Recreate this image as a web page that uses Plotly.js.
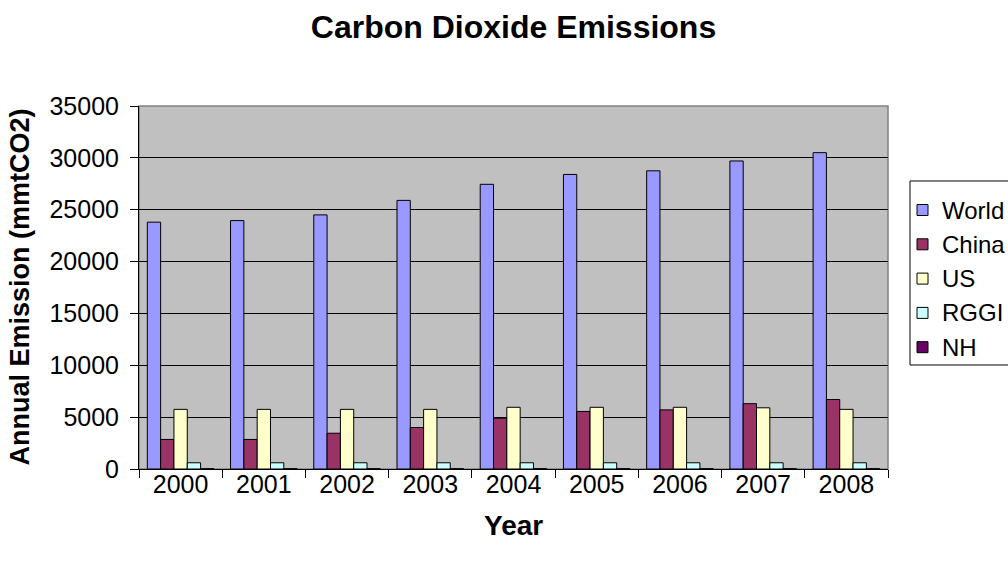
<!DOCTYPE html>
<html>
<head>
<meta charset="utf-8">
<script src="https://cdn.plot.ly/plotly-3.0.1.min.js"></script>
<style>
  html, body { margin: 0; padding: 0; background: #ffffff; }
  #chart { width: 1008px; height: 565px; }
</style>
</head>
<body>
<div id="chart"></div>
<script>
// Annual CO2 emissions, million metric tons
const years = ["2000", "2001", "2002", "2003", "2004", "2005", "2006", "2007", "2008"];
const world = [23800, 23950, 24500, 25900, 27450, 28400, 28750, 29700, 30500];
const china = [2850, 2850, 3450, 4000, 4900, 5550, 5700, 6300, 6700];
const us    = [5750, 5750, 5750, 5750, 5950, 5950, 5950, 5900, 5750];
const rggi  = [600, 600, 600, 600, 600, 600, 600, 600, 600];
const nh    = [21, 21, 21, 21, 21, 21, 21, 21, 21];

const seriesNames = ["World", "China", "US", "RGGI", "NH"];
const seriesValues = [world, china, us, rggi, nh];
const seriesColors = ["#9999FF", "#993366", "#FFFFCC", "#CCFFFF", "#660066"];

const FONT = "Liberation Sans, Arial, sans-serif";

// page geometry of the plotting area (px)
const W = 1008, H = 565;
const M = { l: 139, r: 120, t: 106, b: 96 };
const PW = W - M.l - M.r, PH = H - M.t - M.b;
const px = x => (x - M.l) / PW;            // page x -> paper x
const py = y => (H - M.b - y) / PH;        // page y -> paper y

const traces = seriesNames.map((name, i) => ({
  type: "bar",
  name: name,
  x: years,
  y: seriesValues[i],
  marker: { color: seriesColors[i], line: { color: "#000000", width: 1 } },
  hoverinfo: "x+y+name"
}));

// Legend box drawn beside the plot, one swatch + label per series
const legendTop = 181, legendBottom = 365, rowStep = 34.3, firstRow = 210;
const shapes = [
  { type: "rect", xref: "paper", yref: "paper", x0: 0, x1: 1, y0: 0, y1: 1,
    line: { color: "#808080", width: 1.5 }, layer: "below" },
  { type: "rect", xref: "paper", yref: "paper",
    x0: px(910), x1: px(1030), y0: py(legendBottom), y1: py(legendTop),
    fillcolor: "#ffffff", line: { color: "#000000", width: 1 } }
];
const annotations = [];
seriesNames.forEach((name, i) => {
  const cy = firstRow + i * rowStep;
  shapes.push({
    type: "rect", xref: "paper", yref: "paper",
    x0: px(917), x1: px(928), y0: py(cy + 5.5), y1: py(cy - 5.5),
    fillcolor: seriesColors[i], line: { color: "#000000", width: 1 }
  });
  annotations.push({
    xref: "paper", yref: "paper", x: px(940), y: py(cy),
    xanchor: "left", yanchor: "middle", showarrow: false,
    text: name, font: { family: FONT, size: 24, color: "#000000" }
  });
});

// Axis titles
annotations.push({
  xref: "paper", yref: "paper", x: 0.5, y: py(525),
  xanchor: "center", yanchor: "middle", showarrow: false,
  text: "<b>Year</b>", font: { family: FONT, size: 28, color: "#000000" }
});
annotations.push({
  xref: "paper", yref: "paper", x: px(19), y: 0.5,
  xanchor: "center", yanchor: "middle", showarrow: false, textangle: -90,
  text: "<b>Annual Emission (mmtCO2)</b>", font: { family: FONT, size: 27, color: "#000000" }
});

const layout = {
  width: W,
  height: H,
  margin: { l: M.l, r: M.r, t: M.t, b: M.b, pad: 0, autoexpand: false },
  paper_bgcolor: "#ffffff",
  plot_bgcolor: "#C0C0C0",
  font: { family: FONT, size: 25, color: "#000000" },
  title: {
    text: "<b>Carbon Dioxide Emissions</b>",
    font: { family: FONT, size: 32, color: "#000000" },
    x: 0.5, xanchor: "center", xref: "paper",
    y: 1 - 27 / H, yanchor: "middle"
  },
  showlegend: false,
  barmode: "group",
  bargap: 0.2,
  bargroupgap: 0,
  xaxis: {
    type: "category",
    tickson: "boundaries",
    ticks: "outside",
    ticklen: 8,
    tickcolor: "#000000",
    tickwidth: 1,
    showline: true,
    linecolor: "#000000",
    linewidth: 1,
    showgrid: false,
    ticklabelstandoff: -7,
    tickfont: { family: FONT, size: 25 }
  },
  yaxis: {
    range: [0, 35000],
    dtick: 5000,
    tickformat: "d",
    ticks: "outside",
    ticklen: 8,
    tickcolor: "#000000",
    tickwidth: 1,
    showline: true,
    linecolor: "#000000",
    linewidth: 1,
    showgrid: true,
    gridcolor: "#000000",
    gridwidth: 1,
    zeroline: false,
    ticklabelstandoff: 6,
    tickfont: { family: FONT, size: 25 }
  },
  shapes: shapes,
  annotations: annotations
};

Plotly.newPlot("chart", traces, layout, { displayModeBar: false, staticPlot: true });
</script>
</body>
</html>
